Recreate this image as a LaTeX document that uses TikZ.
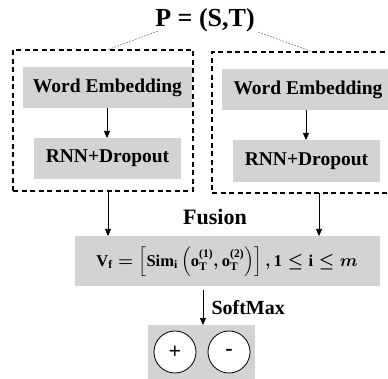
\documentclass[tikz,border=0pt]{standalone}
\usepackage{fontspec}
\usepackage{amsmath,amssymb}
\setmainfont{Liberation Serif}
\usetikzlibrary{arrows.meta}
\definecolor{boxgray}{RGB}{211,211,211}
\newcommand{\tb}[1]{\textbf{#1}}
\newcommand{\myfusformula}{{\fontsize{16.5}{19}\selectfont\boldmath$\tb{V}_{\tb{f}}\mathrel{\boldsymbol{=}}\left[\tb{Sim}_{\tb{i}}\left(\tb{o}_{\tb{T}}^{\tb{(1)}},\tb{o}_{\tb{T}}^{\tb{(2)}}\right)\right],\tb{1}\mathrel{\boldsymbol{\le}}\tb{i}\mathrel{\boldsymbol{\le}}\boldsymbol{m}$}}
\tikzset{
  graybox/.style={fill=boxgray, draw=none, inner sep=0pt, font=\bfseries\fontsize{19.5}{22}\selectfont},
  dashbox/.style={draw=black, line width=1.1pt, dash pattern=on 5pt off 3.5pt, fill=none, inner sep=0pt},
  arr/.style={-{Triangle[length=7pt,width=6pt]}, line width=0.6pt},
  pline/.style={draw=gray, line width=0.6pt, dash pattern=on 2pt off 1.2pt},
  circ/.style={circle, draw=black, fill=white, line width=0.8pt, minimum size=42pt, inner sep=0pt, font=\bfseries\fontsize{22}{24}\selectfont}
}
\begin{document}
\begin{tikzpicture}[x=1pt,y=-1pt]
\useasboundingbox (0,0) rectangle (388,379);
% title
\node[font=\bfseries\fontsize{26}{28}\selectfont] (P) at (205,20) {P = (S,T)};
% dashed containers
\node[dashbox, minimum width=180pt, minimum height=141pt] (lbox) at (103,120.5) {};
\node[dashbox, minimum width=190pt, minimum height=141pt] (rbox) at (307,122.5) {};
% inner boxes
\node[graybox, minimum width=169pt, minimum height=41pt] (lwe) at (107.5,87.5) {Word Embedding};
\node[graybox, minimum width=172pt, minimum height=41pt] (rwe) at (308,89.5) {Word Embedding};
\node[graybox, minimum width=147pt, minimum height=41pt] (lrnn) at (107.5,158.5) {RNN+Dropout};
\node[graybox, minimum width=147pt, minimum height=42pt] (rrnn) at (306.5,161) {RNN+Dropout};
% links from P
\coordinate (lpt) at (107,50);
\coordinate (rpt) at (313,52);
\coordinate (pl) at (158,31);
\coordinate (pr) at (258,32);
\draw[pline] (pl) -- (lpt);
\draw[pline] (pr) -- (rpt);
% fusion
\node[font=\bfseries\fontsize{22}{24}\selectfont] (fus) at (215,217) {Fusion};
\node[fill=boxgray, minimum width=305pt, minimum height=50pt, inner sep=0pt] (fbox) at (227.5,261) {};
\node (form) at (227,262) {\myfusformula};
% arrow anchor points
\coordinate (a1) at (107,108);
\coordinate (a2) at (107,138);
\coordinate (b1) at (306,110);
\coordinate (b2) at (306,140);
\coordinate (c1) at (108,191);
\coordinate (c2) at (108,236);
\coordinate (d1) at (319,193);
\coordinate (d2) at (319,236);
\draw[arr] (a1) -- (a2);
\draw[arr] (b1) -- (b2);
\draw[arr] (c1) -- (c2);
\draw[arr] (d1) -- (d2);
% softmax
\node[fill=boxgray, minimum width=107pt, minimum height=55pt, inner sep=0pt] (obox) at (201.5,352.5) {};
\coordinate (sstart) at (203,290);
\coordinate (send) at (203,325);
\draw[arr] (sstart) -- (send);
\node[font=\bfseries\fontsize{20}{22}\selectfont, anchor=base west] (smax) at (208,314) {SoftMax};
\node[circ] (plus) at (175,352) {+};
\node[circ] (minus) at (229,352) {-};
\end{tikzpicture}
\end{document}
